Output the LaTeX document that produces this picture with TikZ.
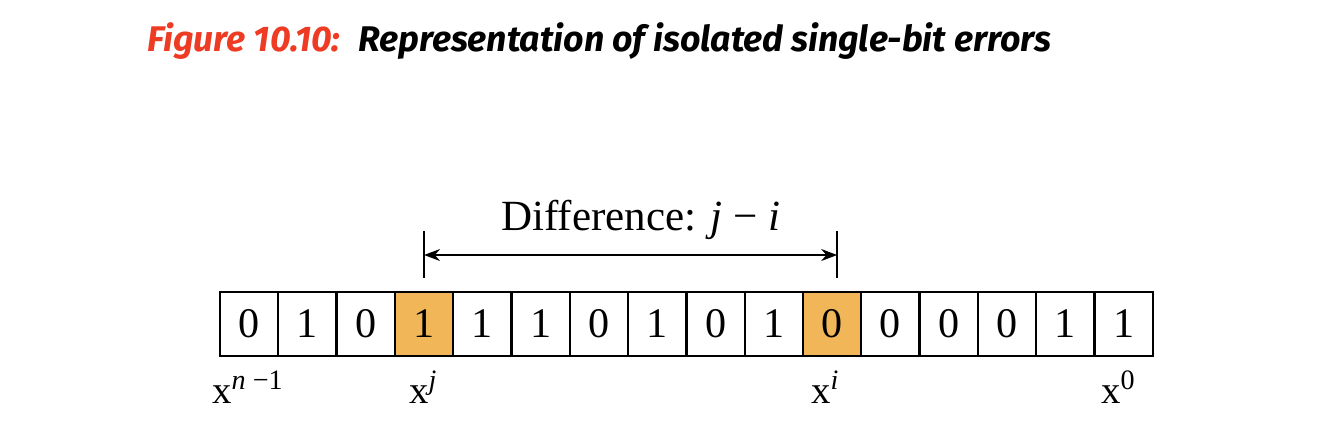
\documentclass[tikz,border=0pt]{standalone}
\usepackage{fontspec}
\setmainfont{Liberation Serif}
\newfontfamily\titlefont{Fira Sans}
\usetikzlibrary{positioning,arrows.meta}

\definecolor{errbit}{HTML}{F0B658}
\definecolor{figred}{HTML}{EE3B24}
\newcommand\xpow[1]{\raisebox{0.27cm}{\fontsize{16}{19}\selectfont #1}}

\begin{document}
\begin{tikzpicture}[x=0.02cm,y=-0.02cm,
  bit/.style={draw,line width=1.3pt,minimum width=1.166cm,minimum height=1.28cm,
    inner sep=0pt,outer sep=0pt,font=\fontsize{24}{28}\selectfont},
  bitidx/.style={anchor=base west,inner sep=0pt,font=\fontsize{22}{26}\selectfont},
  tick/.style={line width=1pt}]
  \useasboundingbox (0,0) rectangle (1322,446);

  \node[anchor=base west,inner sep=0pt,font=\titlefont\bfseries\itshape\fontsize{20.3}{24}\selectfont]
    (title) at (147,52) {\textcolor{figred}{Figure 10.10:}\hspace{0.5em}Representation of isolated single-bit errors};

  \foreach \b/\c [count=\i] in {0/white,1/white,0/white,1/errbit,1/white,1/white,0/white,1/white,
      0/white,1/white,0/errbit,0/white,0/white,0/white,1/white,1/white}
    \node[bit,fill=\c] (b\i) at ({220+58.3*(\i-0.5)},324) {\b};

  \coordinate (jtop) at ([yshift=1.22cm]b4.north);
  \coordinate (jbot) at ([yshift=0.28cm]b4.north);
  \coordinate (jmid) at ([yshift=0.74cm]b4.north);
  \coordinate (itop) at ([xshift=0.1cm,yshift=1.22cm]b11.north);
  \coordinate (ibot) at ([xshift=0.1cm,yshift=0.28cm]b11.north);
  \coordinate (imid) at ([xshift=0.1cm,yshift=0.74cm]b11.north);
  \draw[tick] (jtop) -- (jbot);
  \draw[tick] (itop) -- (ibot);
  \draw[tick,{Stealth[length=0.32cm,width=0.24cm]}-{Stealth[length=0.32cm,width=0.24cm]}] (jmid) -- (imid);
  \node[anchor=base,inner sep=0pt,font=\fontsize{24.5}{29}\selectfont] (diff) at (641,230)
    {Difference: \textit{j} − \textit{i}};

  \node[bitidx] (xn) at (212,403) {x\xpow{\textit{n} −1}};
  \node[bitidx] (xj) at (409,403) {x\xpow{\textit{j}}};
  \node[bitidx] (xi) at (811,403) {x\xpow{\textit{i}}};
  \node[bitidx] (x0) at (1101,403) {x\xpow{0}};
\end{tikzpicture}
\end{document}
